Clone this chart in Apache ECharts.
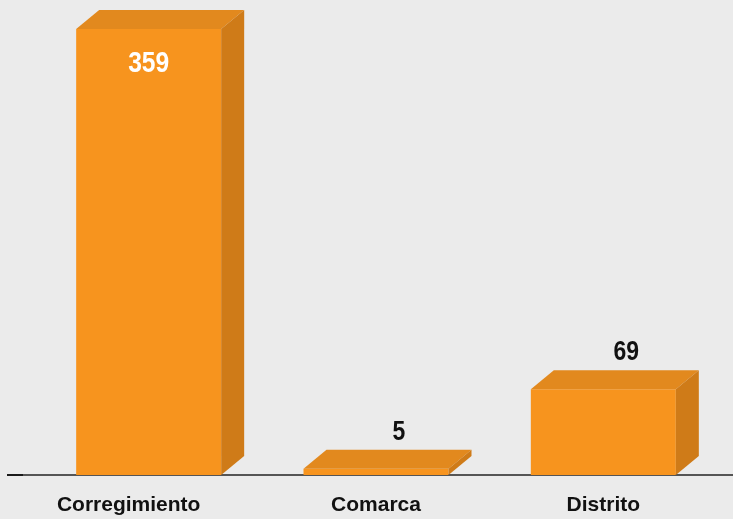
<!DOCTYPE html>
<html>
<head>
<meta charset="utf-8">
<script src="https://cdn.jsdelivr.net/npm/echarts@6/dist/echarts.min.js"></script>
<style>
  html, body { margin: 0; padding: 0; background: #ebebeb; }
  #chart { width: 733px; height: 519px; }
</style>
</head>
<body>
<div id="chart"></div>
<script>
// datos
var categorias = ['Corregimiento', 'Comarca', 'Distrito'];
var valores = [359, 5, 69];

// colores de las caras del cubo
var colorFrente = '#f7941e';
var colorArriba = '#e2891e';
var colorLado = '#cf7b18';

var FUENTE = '"Liberation Sans", Arial, sans-serif';

var myChart = echarts.init(document.getElementById('chart'));

var option = {
    backgroundColor: '#ebebeb',
    animation: false,
    grid: { left: 35, right: 16, top: 29, bottom: 44 },
    xAxis: {
        type: 'category',
        data: categorias,
        axisLine: { show: false },
        axisTick: { show: false },
        axisLabel: {
            interval: 0,
            hideOverlap: false,
            color: '#111',
            fontFamily: FUENTE,
            fontWeight: 'bold',
            fontSize: 21,
            margin: 20,
            // la primera etiqueta esta corrida a la izquierda en el original
            formatter: function (val, i) {
                return i === 0 ? '{izq|' + val + '}' : val;
            },
            rich: {
                izq: {
                    color: '#111',
                    fontFamily: FUENTE,
                    fontWeight: 'bold',
                    fontSize: 21,
                    padding: [0, 40, 0, 0]
                }
            }
        }
    },
    yAxis: {
        type: 'value',
        min: 0,
        max: 359,
        show: false,
        splitLine: { show: false }
    },
    graphic: [
        // linea base
        { type: 'line', shape: { x1: 7, y1: 475, x2: 733, y2: 475 }, style: { stroke: '#555', lineWidth: 2 }, z: 0 },
        { type: 'line', shape: { x1: 7, y1: 475, x2: 23, y2: 475 }, style: { stroke: '#1a1a1a', lineWidth: 2 }, z: 0 }
    ],
    series: [{
        type: 'custom',
        data: valores,
        clip: false,
        z: 5,
        renderItem: function (params, api) {
            var v = api.value(1);
            var base = api.coord([api.value(0), 0]);
            var tope = api.coord([api.value(0), v]);
            var ancho = 145, dx = 23, dy = 19;
            var x0 = base[0] - ancho / 2, x1 = base[0] + ancho / 2;
            var yb = base[1], yt = tope[1];
            var alto = yb - yt;
            var hijos = [
                { type: 'polygon', shape: { points: [[x0, yt], [x1, yt], [x1, yb], [x0, yb]] }, style: { fill: colorFrente } },
                { type: 'polygon', shape: { points: [[x0, yt], [x0 + dx, yt - dy], [x1 + dx, yt - dy], [x1, yt]] }, style: { fill: colorArriba } },
                { type: 'polygon', shape: { points: [[x1, yt], [x1 + dx, yt - dy], [x1 + dx, yb - dy], [x1, yb]] }, style: { fill: colorLado } }
            ];
            var dentro = alto > 100;
            // etiqueta de valor (un poco estrecha, como en el original)
            hijos.push({
                type: 'text',
                x: dentro ? base[0] : base[0] + dx,
                y: dentro ? yt + 35 : yt - dy - 18,
                scaleX: 0.82,
                style: {
                    text: String(v),
                    x: 0,
                    y: 0,
                    align: 'center',
                    verticalAlign: 'middle',
                    fill: dentro ? '#ffffff' : '#111111',
                    font: 'bold ' + (dentro ? 30 : 28) + 'px ' + FUENTE
                }
            });
            return { type: 'group', children: hijos };
        }
    }]
};

myChart.setOption(option);
</script>
</body>
</html>
